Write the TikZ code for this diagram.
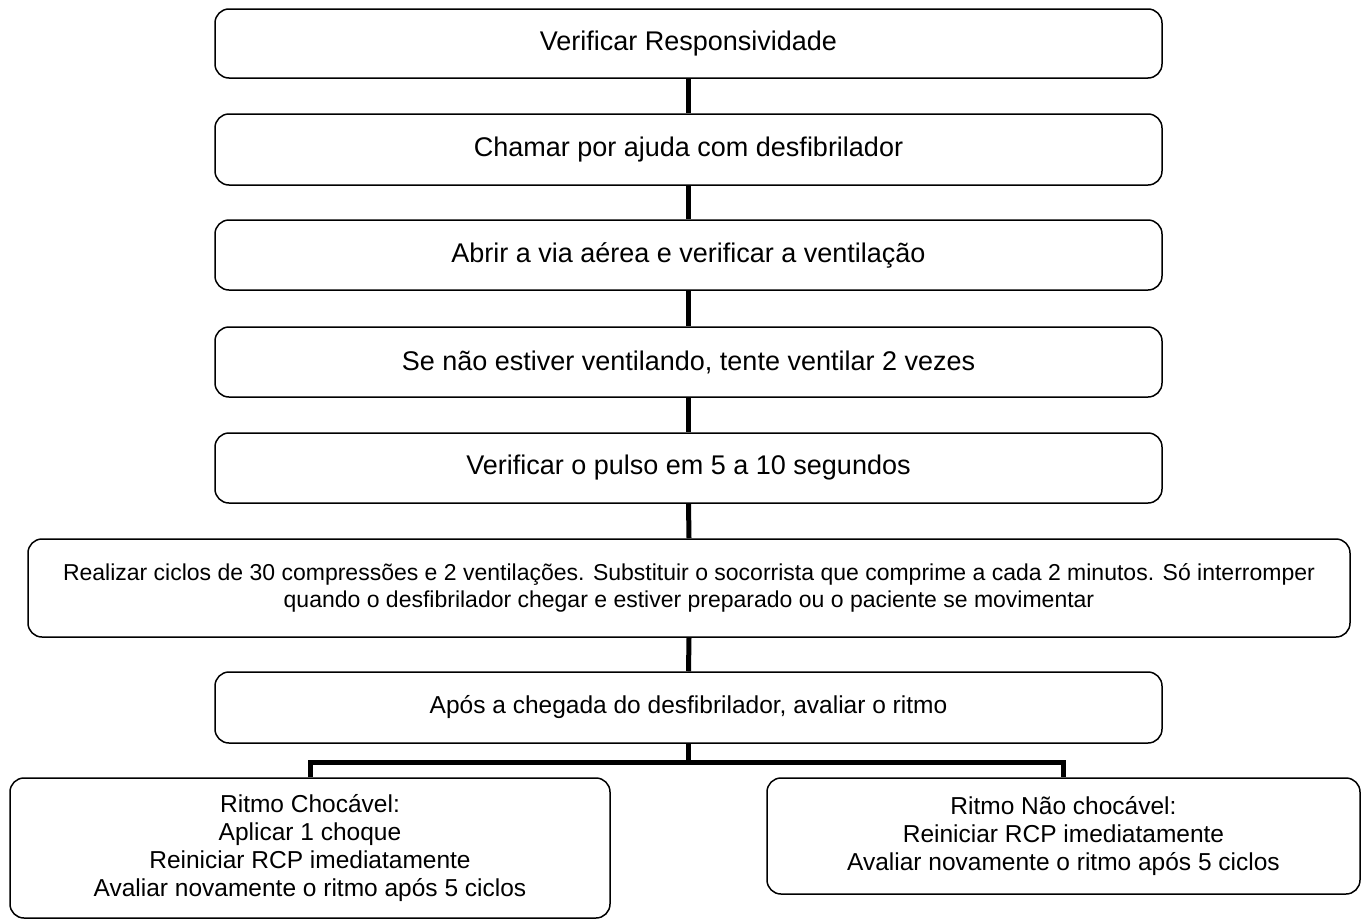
\documentclass[tikz,border=0pt]{standalone}
\usepackage{fontspec}
\setmainfont{Liberation Sans}
\begin{document}
\begin{tikzpicture}[x=1pt,y=-1pt,
  box/.style={draw, line width=1.5pt, rounded corners=14pt, align=center, inner sep=0pt},
  big/.style={font=\fontsize{27}{32}\selectfont},
  mid/.style={font=\fontsize{24.5}{28}\selectfont},
  wide/.style={font=\fontsize{23}{27}\selectfont},
  link/.style={line width=5pt}]
\useasboundingbox (0,0) rectangle (1371,921);
\node[box, big, minimum width=947pt, minimum height=69pt] (b1) at (688.5,43.5) {Verificar Responsividade};
\node[box, big, minimum width=947pt, minimum height=71pt] (b2) at (688.5,149.5) {Chamar por ajuda com desfibrilador};
\node[box, big, minimum width=947pt, minimum height=70pt] (b3) at (688.5,255) {Abrir a via aérea e verificar a ventilação};
\node[box, big, minimum width=947pt, minimum height=70pt] (b4) at (688.5,362) {Se não estiver ventilando, tente ventilar 2 vezes};
\node[box, big, minimum width=947pt, minimum height=70pt] (b5) at (688.5,468) {Verificar o pulso em 5 a 10 segundos};
\node[box, wide, minimum width=1322pt, minimum height=98pt] (b6) at (689,588) {Realizar ciclos de 30 compressões e 2 ventilações. Substituir o socorrista que comprime a cada 2 minutos. Só interromper\\quando o desfibrilador chegar e estiver preparado ou o paciente se movimentar};
\node[box, mid, minimum width=947pt, minimum height=71pt] (b7) at (688.5,707.5) {Após a chegada do desfibrilador, avaliar o ritmo};
\node[box, mid, minimum width=600pt, minimum height=140pt] (bl) at (310,848) {Ritmo Chocável:\\Aplicar 1 choque\\Reiniciar RCP imediatamente\\Avaliar novamente o ritmo após 5 ciclos};
\node[box, mid, minimum width=593pt, minimum height=116pt] (br) at (1063.5,836) {Ritmo Não chocável:\\Reiniciar RCP imediatamente\\Avaliar novamente o ritmo após 5 ciclos};
\draw[link] (b1.south) -- (b2.north);
\draw[link] (b2.south) -- (b3.north);
\draw[link] (b3.south) -- (b4.north);
\draw[link] (b4.south) -- (b5.north);
\draw[link] (b5.south) -- (b6.north);
\draw[link] (b6.south) -- (b7.north);
\coordinate (j) at (688.5,762);
\draw[link] (b7.south) -- (j);
\draw[link] (bl.north) |- (j) -| (br.north);
\end{tikzpicture}
\end{document}
